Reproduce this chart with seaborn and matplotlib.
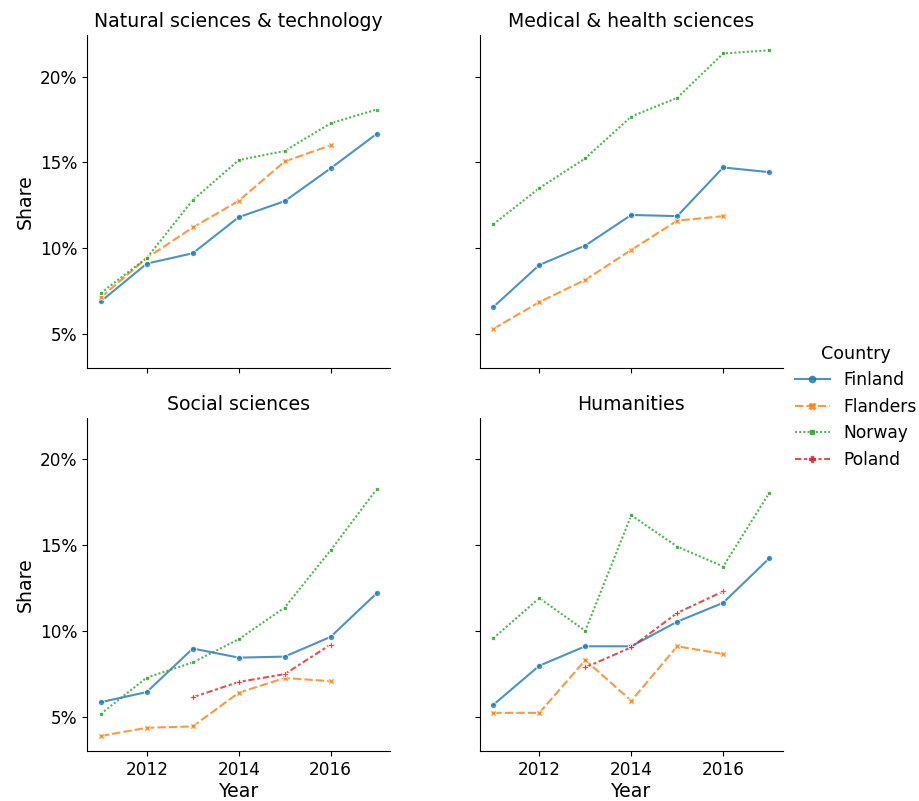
import numpy as np
import pandas as pd
import seaborn as sns
import matplotlib
matplotlib.use("Agg")
import matplotlib.pyplot as plt
from matplotlib.ticker import PercentFormatter, MultipleLocator

years = [2011, 2012, 2013, 2014, 2015, 2016, 2017]
fields = ["Natural sciences & technology", "Medical & health sciences",
          "Social sciences", "Humanities"]
countries = ["Finland", "Flanders", "Norway", "Poland"]

# Shares in percent (None = no data)
nat_finland = [6.92, 9.12, 9.72, 11.82, 12.75, 14.66, 16.66]
nat_flanders = [7.15, 9.45, 11.22, 12.77, 15.06, 16.00, None]
nat_norway = [7.41, 9.45, 12.81, 15.14, 15.67, 17.28, 18.08]

med_finland = [6.60, 9.04, 10.17, 11.95, 11.88, 14.71, 14.44]
med_flanders = [5.33, 6.88, 8.18, 9.91, 11.62, 11.88, None]
med_norway = [11.41, 13.51, 15.24, 17.67, 18.76, 21.34, 21.52]

soc_finland = [5.88, 6.47, 9.00, 8.47, 8.53, 9.68, 12.21]
soc_flanders = [3.92, 4.39, 4.47, 6.43, 7.29, 7.10, None]
soc_norway = [5.20, 7.31, 8.19, 9.54, 11.38, 14.71, 18.26]
soc_poland = [None, None, 6.16, 7.06, 7.51, 9.23, None]

hum_finland = [5.73, 8.00, 9.13, 9.13, 10.56, 11.66, 14.24]
hum_flanders = [5.26, 5.26, 8.33, 5.96, 9.13, 8.68, None]
hum_norway = [9.60, 11.93, 10.03, 16.75, 14.93, 13.77, 18.04]
hum_poland = [None, None, 7.90, 9.07, 11.07, 12.32, None]

series = {
    ("Natural sciences & technology", "Finland"): nat_finland,
    ("Natural sciences & technology", "Flanders"): nat_flanders,
    ("Natural sciences & technology", "Norway"): nat_norway,
    ("Medical & health sciences", "Finland"): med_finland,
    ("Medical & health sciences", "Flanders"): med_flanders,
    ("Medical & health sciences", "Norway"): med_norway,
    ("Social sciences", "Finland"): soc_finland,
    ("Social sciences", "Flanders"): soc_flanders,
    ("Social sciences", "Norway"): soc_norway,
    ("Social sciences", "Poland"): soc_poland,
    ("Humanities", "Finland"): hum_finland,
    ("Humanities", "Flanders"): hum_flanders,
    ("Humanities", "Norway"): hum_norway,
    ("Humanities", "Poland"): hum_poland,
}

rows = []
for (field, country), vals in series.items():
    for y, v in zip(years, vals):
        if v is not None:
            rows.append({"Field": field, "Country": country, "Year": y, "Share": v / 100.0})
df = pd.DataFrame(rows)

plt.rcParams.update({
    "font.family": ["DejaVu Sans"],
    "font.size": 12,
    "axes.titlesize": 14.4,
    "axes.labelsize": 13.6,
    "xtick.labelsize": 12.2,
    "ytick.labelsize": 12.2,
    "legend.fontsize": 12.3,
    "legend.title_fontsize": 12.6,
    "lines.linewidth": 1.5,
})

g = sns.relplot(data=df, x="Year", y="Share", hue="Country", style="Country",
                hue_order=countries, style_order=countries, palette="tab10",
                col="Field", col_order=fields, col_wrap=2, kind="line",
                markers=True, markersize=4.5, alpha=0.8,
                height=4, aspect=0.9)
g.set_titles("{col_name}")
for ax in g.axes.flat:
    ax.yaxis.set_major_locator(MultipleLocator(0.05))
    ax.yaxis.set_major_formatter(PercentFormatter(1.0, decimals=0))
    ax.set_xticks([2012, 2014, 2016])
    ax.xaxis.labelpad = 2.5
g.figure.set_size_inches(9.2, 8.01)
g.figure.subplots_adjust(left=0.0946, right=0.851, top=0.956, bottom=0.0624,
                         wspace=0.294, hspace=0.15)
g.legend.set_bbox_to_anchor((1.013, 0.492), transform=g.figure.transFigure)
g.figure.savefig("out.png", dpi=100)
